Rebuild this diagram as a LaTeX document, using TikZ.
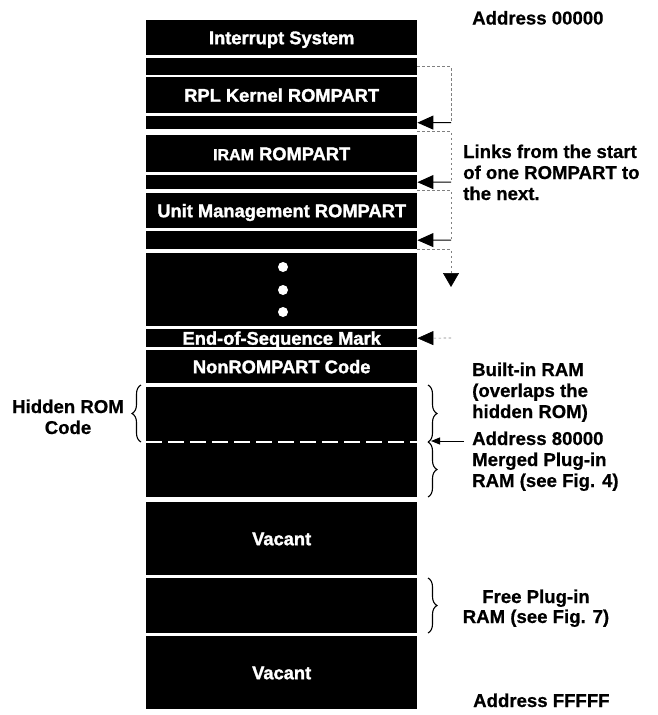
\documentclass[tikz,border=0pt]{standalone}
\usepackage{fontspec}
\setmainfont{Liberation Sans}[BoldFeatures={FakeBold=0.6}]
\newfontfamily\blockfont{Liberation Sans}[BoldFeatures={FakeBold=1.6}]
\usetikzlibrary{arrows.meta,decorations.pathreplacing}

% one black memory region: name, top edge, height, label
\newcommand\memblk[4]{%
  \node[memblock,minimum height=#3pt] (#1) at (146,#2) {#4};}

\begin{document}
\begin{tikzpicture}[x=1pt,y=-1pt,
  font=\bfseries\fontsize{18.6}{21.5}\selectfont,
  memblock/.style={fill=black,text=white,inner sep=0pt,minimum width=271pt,
    anchor=north west,text height=13pt,text depth=0pt,
    font=\blockfont\bfseries\fontsize{18.3}{21.5}\selectfont},
  label/.style={inner sep=0pt,anchor=base west},
  clabel/.style={inner sep=0pt,anchor=base},
  linkdash/.style={draw=black!50,line width=0.6pt,dash pattern=on 2.5pt off 2.5pt},
  linkhead/.style={draw=black,line width=1pt,
    -{Triangle[length=16pt,width=14pt]}},
  memdot/.style={circle,fill=white,inner sep=0pt,minimum size=10pt},
  membrace/.style={draw=black,line width=1.1pt,decorate,
    decoration={brace,amplitude=9pt}},
]
\useasboundingbox[fill=white] (0,0) rectangle (658,715);

% memory map, address 00000 at the top
\memblk{intr}{20}{35}{Interrupt System}
\memblk{thin1}{58}{17}{}
\memblk{rpl}{77}{36}{RPL Kernel ROMPART}
\memblk{thin2}{116}{13}{}
\memblk{iram}{135}{37}{{\fontsize{16}{18}\selectfont IRAM} ROMPART}
\memblk{thin3}{175}{14}{}
\memblk{unit}{193}{35}{Unit Management ROMPART}
\memblk{thin4}{231}{18}{}
\memblk{more}{253}{73}{}
\memblk{eos}{329}{18}{End-of-Sequence Mark}
\memblk{nonrom}{350}{33}{NonROMPART Code}
\memblk{bram}{387}{110}{}
\memblk{vac1}{502}{73}{Vacant}
\memblk{free}{578}{55}{}
\memblk{vac2}{636}{73}{Vacant}

% ellipsis dots
\node[memdot] (d1) at (283,267) {};
\node[memdot] (d2) at (283,290) {};
\node[memdot] (d3) at (283,312) {};

% boundary at address 80000
\coordinate (splitL) at (146,442);
\coordinate (splitR) at (417,442);
\draw[white,line width=2.5pt,dash pattern=on 16pt off 6pt] (splitL) -- (splitR);

% ROMPART link chain
\coordinate (c1) at (451,122.5);
\coordinate (c2) at (451,182);
\coordinate (c3) at (451,240);
\coordinate (c4) at (451,287);
\coordinate (ceos) at (451,338);
\draw[linkdash] (thin1.east) -| (c1);
\draw[linkhead] (c1) -- (thin2.east);
\draw[linkdash] (thin2.south east) ++(0,2) -| (c2);
\draw[linkhead] (c2) -- (thin3.east);
\draw[linkdash] (thin3.south east) ++(0,1) -| (c3);
\draw[linkhead] (c3) -- (thin4.east);
\draw[linkdash,-{Triangle[length=14pt,width=16pt,color=black,fill=black]}]
  (thin4.south east) -| (c4);
\draw[linkdash,-{Triangle[length=16pt,width=14pt,color=black,fill=black]}]
  (ceos) -- (eos.east);

% right-hand notes
\node[label] (a0) at (472,24.5) {Address 00000};
\node[label] (lk1) at (463,158) {Links from the start};
\node[label] (lk2) at (463,179) {of one ROMPART to};
\node[label] (lk3) at (463,200) {the next.};
\node[label] (bi1) at (472,376) {Built-in RAM};
\node[label] (bi2) at (472,397) {(overlaps the};
\node[label] (bi3) at (472,418) {hidden ROM)};
\node[label] (a80) at (472,445) {Address 80000};
\node[label] (mp1) at (472,466) {Merged Plug-in};
\node[label] (mp2) at (472,487) {RAM (see Fig. 4)};
\node[clabel] (fp1) at (536,603) {Free Plug-in};
\node[clabel] (fp2) at (536,623) {RAM (see Fig. 7)};
\node[label] (aF) at (473,707) {Address FFFFF};

% left-hand note
\node[clabel] (hr1) at (68,413) {Hidden ROM};
\node[clabel] (hr2) at (68,434) {Code};

% braces
\draw[membrace] (428,385) -- (428,442);
\draw[membrace] (428,442) -- (428,497);
\draw[membrace] (428,578) -- (428,633);
\draw[membrace] (141,442) -- (141,385);

% pointer to address 80000
\coordinate (cusp) at (431,441);
\coordinate (a80tail) at (464,441);
\draw[line width=1pt,-{Triangle[length=9pt,width=7pt]}] (a80tail) -- (cusp);
\end{tikzpicture}
\end{document}
